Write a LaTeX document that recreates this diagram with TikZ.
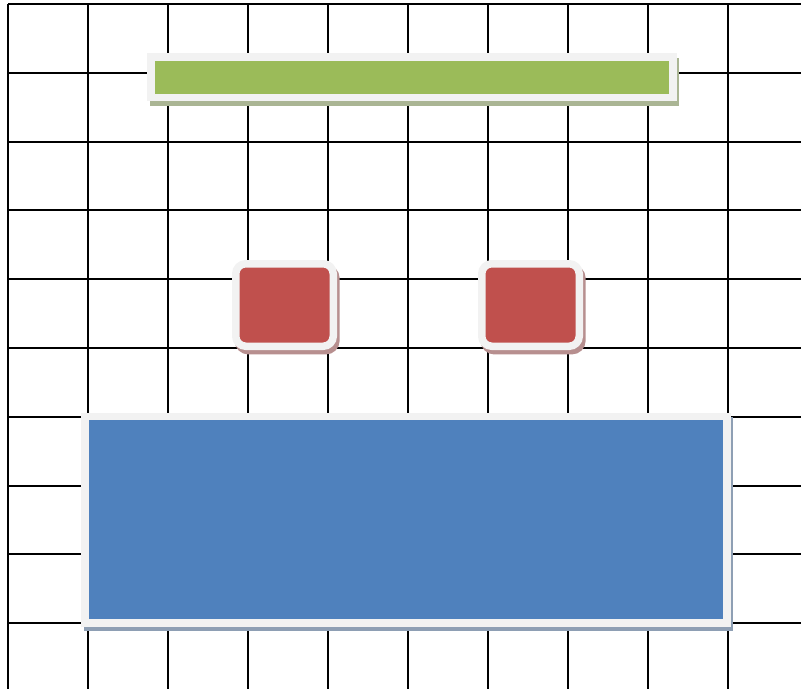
\documentclass[tikz,border=0pt]{standalone}
\usetikzlibrary{shadows}
\definecolor{framegray}{HTML}{F2F2F2}
\definecolor{barGreen}{HTML}{9BBB59}
\definecolor{boxRed}{HTML}{C0504D}
\definecolor{boxBlue}{HTML}{4F81BD}
\definecolor{greenShadow}{HTML}{AAB594}
\definecolor{redShadow}{HTML}{B78F8F}
\definecolor{blueShadow}{HTML}{8E9FB4}
\newcommand\pxu{0.025cm}

\begin{document}
\begin{tikzpicture}[x=0.025cm, y=-0.025cm,
gridline/.style = {draw=black, line width=2*\pxu},
tile/.style     = {draw=framegray, line width=7.5*\pxu,
                   inner sep=0pt, outer sep=0pt,
                   drop shadow={shadow xshift=0.065cm, shadow yshift=-0.11cm,
                                opacity=1, fill=#1, draw=#1,
                                line width=7.5*\pxu}},
roundtile/.style = {tile=#1, rounded corners=0.25cm}
                   ]
\useasboundingbox (0,0) rectangle (801,689);
% grid
\foreach \i in {0,...,9}
    \draw[gridline] (8+80*\i,4) -- (8+80*\i,689);
\foreach \j in {0,...,9}
    \draw[gridline] (8,4+68.8*\j) -- (801,4+68.8*\j);
%
\node[tile=greenShadow, fill=barGreen,
      minimum width=522*\pxu, minimum height=40.5*\pxu] (greenbar) at (412,77.25) {};
\node[roundtile=redShadow, fill=boxRed,
      minimum width=97.5*\pxu, minimum height=82.5*\pxu] (redleft) at (284.5,305) {};
\node[roundtile=redShadow, fill=boxRed,
      minimum width=97.5*\pxu, minimum height=82.5*\pxu] (redright) at (530.5,305) {};
\node[tile=blueShadow, fill=boxBlue,
      minimum width=642.25*\pxu, minimum height=206.5*\pxu] (bluebox) at (405.9,519.75) {};
\end{tikzpicture}
\end{document}
